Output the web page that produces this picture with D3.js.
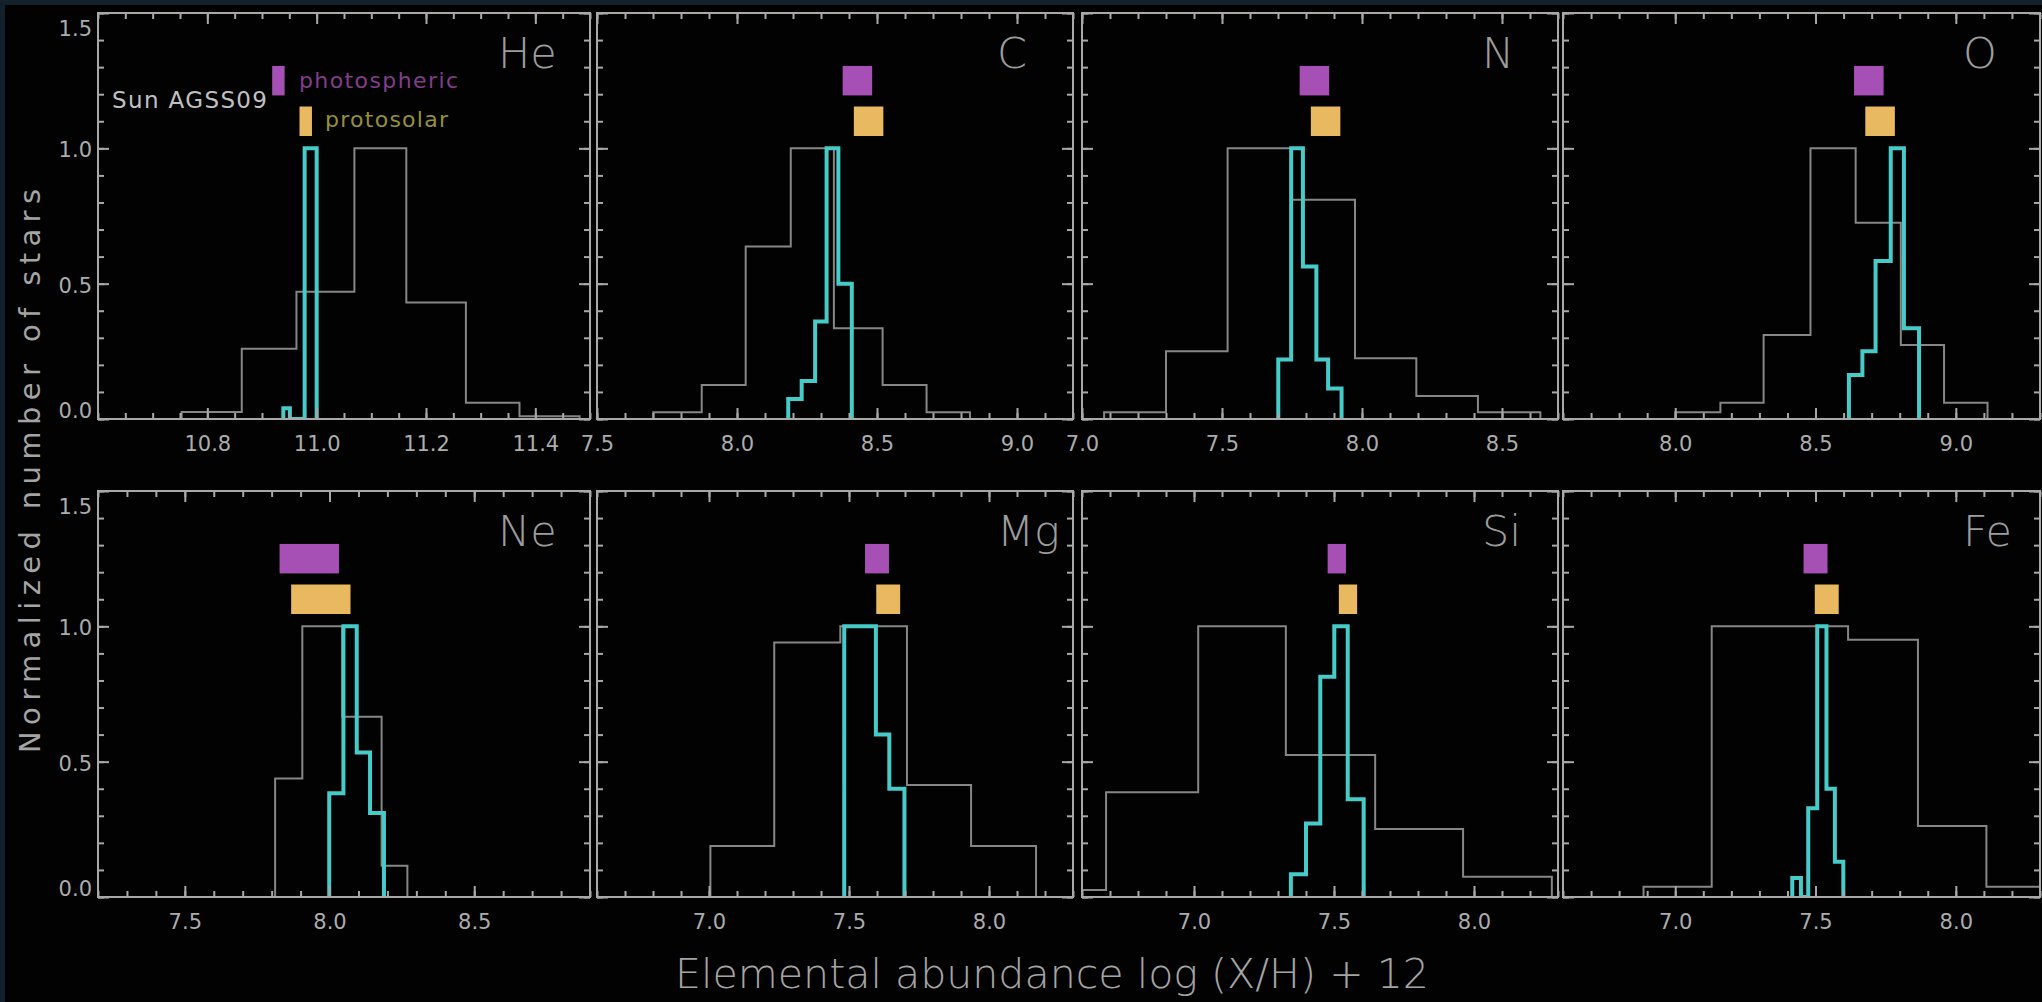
<!DOCTYPE html>
<html>
<head>
<meta charset="utf-8">
<script src="https://cdn.jsdelivr.net/npm/d3@7"></script>
<style>
  html, body { margin: 0; padding: 0; background: #020202; }
  svg { display: block; }
  text { font-family: "DejaVu Sans", "Liberation Sans", sans-serif; }
</style>
</head>
<body>
<svg id="chart"></svg>
<script>
// values
let elements = ["He", "C", "N", "O", "Ne", "Mg", "Si", "Fe"];

let xDomains = [[10.6, 11.5], [7.5, 9.2], [7.0, 8.7], [7.6, 9.3],
                [7.2, 8.9], [6.6, 8.3], [6.6, 8.3], [6.6, 8.3]];
let xTickValues = [[10.8, 11.0, 11.2, 11.4], [7.5, 8.0, 8.5, 9.0], [7.0, 7.5, 8.0, 8.5], [8.0, 8.5, 9.0],
                   [7.5, 8.0, 8.5], [7.0, 7.5, 8.0], [7.0, 7.5, 8.0], [7.0, 7.5, 8.0]];
let xMinorStep = [0.05, 0.1, 0.1, 0.1, 0.1, 0.1, 0.1, 0.1];
let yTickValues = [0.0, 0.5, 1.0, 1.5];

// Sun AGSS09: photospheric and protosolar abundances with errors
let photoVal = [10.93, 8.43, 7.83, 8.69, 7.93, 7.60, 7.51, 7.50];
let photoErr = [0.01, 0.05, 0.05, 0.05, 0.10, 0.04, 0.03, 0.04];
let protoVal = [10.98, 8.47, 7.87, 8.73, 7.97, 7.64, 7.55, 7.54];
let protoErr = [0.01, 0.05, 0.05, 0.05, 0.10, 0.04, 0.03, 0.04];
let photoLevel = 1.25, protoLevel = 1.10;

// broad (grey) histograms: bin edges and normalized heights
let greyEdges = [
  [10.753, 10.863, 10.963, 11.069, 11.164, 11.273, 11.371, 11.481],
  [7.701, 7.874, 8.031, 8.192, 8.346, 8.520, 8.677, 8.832],
  [7.079, 7.300, 7.520, 7.747, 7.975, 8.194, 8.414, 8.637],
  [8.000, 8.161, 8.315, 8.482, 8.643, 8.804, 8.958, 9.113],
  [7.812, 7.906, 8.044, 8.180, 8.269],
  [7.005, 7.233, 7.469, 7.707, 7.936, 8.168],
  [6.370, 6.686, 7.015, 7.328, 7.647, 7.961, 8.278],
  [6.887, 7.130, 7.373, 7.616, 7.865, 8.109, 8.352]
];
let greyHeights = [
  [0.026, 0.26, 0.47, 1.0, 0.43, 0.06, 0.01],
  [0.025, 0.126, 0.637, 1.0, 0.335, 0.126, 0.025],
  [0.025, 0.25, 1.0, 0.81, 0.224, 0.085, 0.025],
  [0.025, 0.06, 0.31, 1.0, 0.725, 0.273, 0.06],
  [0.438, 1.0, 0.666, 0.115],
  [0.188, 0.94, 1.0, 0.414, 0.188],
  [0.026, 0.387, 1.0, 0.525, 0.251, 0.075],
  [0.038, 1.0, 1.0, 0.95, 0.262, 0.038]
];

// narrow (cyan) histograms
let cyanEdges = [
  [10.939, 10.951, 10.978, 11.0],
  [8.183, 8.231, 8.279, 8.320, 8.362, 8.410],
  [7.701, 7.747, 7.789, 7.837, 7.879, 7.927],
  [8.619, 8.667, 8.714, 8.768, 8.815, 8.869],
  [7.999, 8.048, 8.094, 8.140, 8.188],
  [7.483, 7.596, 7.644, 7.698],
  [7.346, 7.400, 7.451, 7.501, 7.549, 7.606],
  [7.417, 7.448, 7.474, 7.506, 7.539, 7.569, 7.599]
];
let cyanHeights = [
  [0.04, 0, 1.0],
  [0.074, 0.14, 0.36, 1.0, 0.50],
  [0.22, 1.0, 0.563, 0.22, 0.113],
  [0.163, 0.25, 0.584, 1.0, 0.335],
  [0.383, 1.0, 0.534, 0.31],
  [1.0, 0.6, 0.4],
  [0.084, 0.272, 0.814, 1.0, 0.361],
  [0.07, 0, 0.328, 1.0, 0.40, 0.13]
];

// layout
let width = 2042, height = 1002;
let panelLeft = [98, 597, 1082, 1563];
let panelWidth = [492, 476, 476, 477];
let rowTop = [13, 491];
let panelHeight = 406;

let frameColor = "#a8a8a8",
    textColor = "#acacac";

let svg = d3.select("#chart")
    .attr("width", width)
    .attr("height", height);

svg.append("rect").attr("width", width).attr("height", height).attr("fill", "#020202");
svg.append("rect").attr("width", width).attr("height", 5).attr("fill", "#13212d");
svg.append("rect").attr("width", 5).attr("height", height).attr("fill", "#13212d");

let y = d3.scaleLinear()
  .domain([0, 1.5])
  .range([panelHeight, 0]);

let fmt = d3.format(".1f");

function stepPoints(edges, heights) {
  let pts = [[edges[0], 0]];
  heights.forEach((h, k) => {
    pts.push([edges[k], h]);
    pts.push([edges[k + 1], h]);
  });
  pts.push([edges[edges.length - 1], 0]);
  return pts;
}

function styleAxis(sel) {
  sel.select(".domain").remove();
  sel.selectAll(".tick line").attr("stroke", frameColor).attr("stroke-width", 2);
  sel.selectAll(".tick text")
    .attr("fill", textColor)
    .style("font-size", "21px")
    .style("font-family", "'DejaVu Sans', sans-serif");
}

elements.forEach((el, i) => {
  let col = i % 4,
      row = Math.floor(i / 4),
      w = panelWidth[col];

  let x = d3.scaleLinear()
    .domain(xDomains[i])
    .range([0, w]);

  let g = svg.append("g")
    .attr("transform", "translate(" + panelLeft[col] + "," + rowTop[row] + ")");

  g.append("clipPath").attr("id", "clip" + i)
    .append("rect").attr("width", w).attr("height", panelHeight);

  let plot = g.append("g").attr("clip-path", "url(#clip" + i + ")");

  let line = d3.line()
    .x(d => x(d[0]))
    .y(d => y(d[1]));

  plot.append("path")
    .attr("d", line(stepPoints(greyEdges[i], greyHeights[i])))
    .attr("fill", "none")
    .attr("stroke", "#868686")
    .attr("stroke-width", 2);

  plot.append("path")
    .attr("d", line(stepPoints(cyanEdges[i], cyanHeights[i])))
    .attr("fill", "none")
    .attr("stroke", "#47cbc8")
    .attr("stroke-width", 4)
    .attr("stroke-linejoin", "miter");

  // solar reference boxes
  let boxHalf = 14;
  plot.append("rect")
    .attr("x", x(photoVal[i] - photoErr[i]))
    .attr("width", x(photoVal[i] + photoErr[i]) - x(photoVal[i] - photoErr[i]))
    .attr("y", y(photoLevel) - boxHalf)
    .attr("height", boxHalf * 2)
    .attr("fill", "#a650b6")
    .attr("stroke", "#a650b6")
    .attr("stroke-width", 1.5);

  plot.append("rect")
    .attr("x", x(protoVal[i] - protoErr[i]))
    .attr("width", x(protoVal[i] + protoErr[i]) - x(protoVal[i] - protoErr[i]))
    .attr("y", y(protoLevel) - boxHalf)
    .attr("height", boxHalf * 2)
    .attr("fill", "#e8b960")
    .attr("stroke", "#e8b960")
    .attr("stroke-width", 1.5);

  // frame
  g.append("rect")
    .attr("width", w)
    .attr("height", panelHeight)
    .attr("fill", "none")
    .attr("stroke", frameColor)
    .attr("stroke-width", 2);

  let minor = d3.range(Math.ceil(xDomains[i][0] / xMinorStep[i] - 1e-6), Math.floor(xDomains[i][1] / xMinorStep[i] + 1e-6) + 1)
    .map(k => +(k * xMinorStep[i]).toFixed(3));
  let yMinor = d3.range(0, 16).map(k => k / 10);

  // bottom: major ticks with labels, minor ticks
  g.append("g")
    .attr("transform", "translate(0," + panelHeight + ")")
    .call(d3.axisBottom(x).tickValues(xTickValues[i]).tickSizeInner(-11).tickSizeOuter(0).tickPadding(17).tickFormat(fmt))
    .call(styleAxis);
  g.append("g")
    .attr("transform", "translate(0," + panelHeight + ")")
    .call(d3.axisBottom(x).tickValues(minor).tickSizeInner(-6).tickSizeOuter(0).tickFormat(""))
    .call(styleAxis);

  // top
  g.append("g")
    .call(d3.axisTop(x).tickValues(xTickValues[i]).tickSizeInner(-11).tickSizeOuter(0).tickFormat(""))
    .call(styleAxis);
  g.append("g")
    .call(d3.axisTop(x).tickValues(minor).tickSizeInner(-6).tickSizeOuter(0).tickFormat(""))
    .call(styleAxis);

  // left
  let left = g.append("g")
    .call(d3.axisLeft(y).tickValues(yTickValues).tickSizeInner(-11).tickSizeOuter(0).tickPadding(6)
      .tickFormat(col === 0 ? fmt : ""))
    .call(styleAxis);
  left.selectAll(".tick text")
    .attr("dy", d => d === 1.5 ? "1.05em" : (d === 0 ? "-0.05em" : "0.4em"));
  g.append("g")
    .call(d3.axisLeft(y).tickValues(yMinor).tickSizeInner(-6).tickSizeOuter(0).tickFormat(""))
    .call(styleAxis);

  // right
  g.append("g")
    .attr("transform", "translate(" + w + ",0)")
    .call(d3.axisRight(y).tickValues(yTickValues).tickSizeInner(-11).tickSizeOuter(0).tickFormat(""))
    .call(styleAxis);
  g.append("g")
    .attr("transform", "translate(" + w + ",0)")
    .call(d3.axisRight(y).tickValues(yMinor).tickSizeInner(-6).tickSizeOuter(0).tickFormat(""))
    .call(styleAxis);

  // element name
  g.append("text")
    .attr("x", 400)
    .attr("y", 55)
    .attr("fill", "#9c9c9c")
    .style("font-size", "43px")
    .style("font-weight", "300")
    .text(el);
});

// legend in the He panel
svg.append("text")
  .attr("x", 267).attr("y", 108)
  .attr("text-anchor", "end")
  .attr("fill", "#c0c0c0")
  .style("font-size", "23px")
  .attr("textLength", 155)
  .text("Sun AGSS09");

svg.append("text")
  .attr("x", 299).attr("y", 88)
  .attr("fill", "#843c8e")
  .style("font-size", "22px")
  .attr("textLength", 159)
  .text("photospheric");

svg.append("text")
  .attr("x", 325).attr("y", 127)
  .attr("fill", "#969036")
  .style("font-size", "22px")
  .attr("textLength", 123)
  .text("protosolar");

// axis titles
svg.append("text")
  .attr("transform", "translate(40,471) rotate(-90)")
  .attr("text-anchor", "middle")
  .attr("fill", "#a4a4a4")
  .style("font-size", "29px")
  .attr("textLength", 564)
  .text("Normalized number of stars");

svg.append("text")
  .attr("x", 1052).attr("y", 988)
  .attr("text-anchor", "middle")
  .attr("fill", "#a4a4a4")
  .style("font-size", "40px")
  .style("font-weight", "300")
  .attr("textLength", 754)
  .attr("lengthAdjust", "spacingAndGlyphs")
  .text("Elemental abundance log (X/H) + 12");
</script>
</body>
</html>
